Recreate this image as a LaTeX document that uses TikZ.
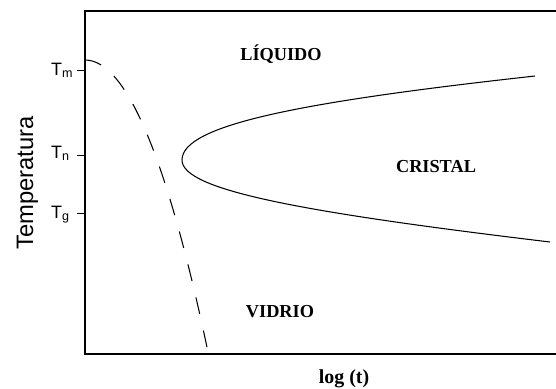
\documentclass[tikz,border=0pt]{standalone}
\usepackage{fontspec}
\setmainfont{Liberation Serif}
\newfontfamily\axisfont{Liberation Sans}

\begin{document}
\begin{tikzpicture}[
  x=0.03cm, y=-0.03cm,
  region/.style={font=\fontsize{15.6}{18}\selectfont\bfseries, anchor=base},
  tlabel/.style={font=\axisfont\fontsize{15.3}{18}\selectfont, anchor=base west, inner sep=0pt},
  frame/.style={line width=1.3pt},
  curve/.style={line width=0.9pt},
  glass/.style={line width=0.9pt, dash pattern=on 14.5pt off 14.5pt},
]
\useasboundingbox (0,0) rectangle (556,388);

% axes box, open on the right
\draw[frame] (556,11) -- (85,11) -- (85,354) -- (556,354);

% temperature marks
\draw (77,70)  -- (85,70);
\draw (77,155) -- (85,155);
\draw (77,213) -- (85,213);
\node[tlabel] (tm) at (51,75)  {T\textsubscript{m}};
\node[tlabel] (tn) at (51,158) {T\textsubscript{n}};
\node[tlabel] (tg) at (51,218) {T\textsubscript{g}};

\node[font=\axisfont\fontsize{20.3}{24}\selectfont, rotate=90, anchor=base] (ylabel) at (33,183) {Temperatura};
\node[region, font=\fontsize{17}{20}\selectfont\bfseries] (xlabel) at (344,383) {log (t)};

% critical cooling curve
\draw[glass] (85,60) .. controls (126,60) and (167,157) .. (208,352);

% crystallisation nose
\draw[curve] (535,76) .. controls (300,102) and (182,125) .. (182,160)
                      .. controls (182,190) and (300,212) .. (550,242);

\node[region] (liquido) at (281,60)  {LÍQUIDO};
\node[region] (cristal) at (436,172) {CRISTAL};
\node[region] (vidrio)  at (280,317) {VIDRIO};
\end{tikzpicture}
\end{document}
